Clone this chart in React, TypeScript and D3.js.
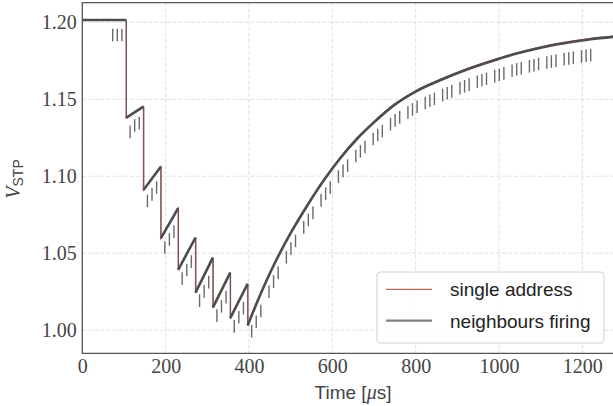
import React, { useEffect, useRef } from "react";
import * as d3 from "d3";

// spike phase: one spike every ~41.7 us
const spikeTimes = [105, 146.7, 188.3, 230, 271.7, 313.3, 355, 396.7];
const restValue = 1.2015;
const valueBeforeSpike = [1.2015, 1.1452, 1.1062, 1.0792, 1.0601, 1.0471, 1.0374, 1.0301];
const valueAfterSpike = [1.1379, 1.0911, 1.0597, 1.0392, 1.0244, 1.0147, 1.0078, 1.003];

// recovery after the last spike
const recoveryTimes = [396.7, 420, 460, 500, 540, 580, 620, 660, 700, 750, 800, 860, 920, 980, 1040, 1100, 1160, 1220, 1274];
const recoveryValues = [1.003, 1.0185, 1.0425, 1.063, 1.081, 1.0975, 1.112, 1.1245, 1.135, 1.1465, 1.155, 1.1625, 1.169, 1.1745, 1.1795, 1.1835, 1.1865, 1.189, 1.1905];

// neighbour events: groups of three ticks
const markerGroupTimes = [73, 114.7, 156.3, 198, 239.7, 281.4, 323, 364.7, 406.4, 448, 489.7, 531.4, 573, 614.7,
  656.4, 698, 739.7, 781.4, 823, 864.7, 906.4, 948, 989.7, 1031.4, 1073, 1114.7, 1156.4, 1198];
const markerOffsets = [0, 11, 22];
const markerValues = [
  [1.1917, 1.1917, 1.1917],
  [1.1288, 1.133, 1.1345],
  [1.084, 1.0882, 1.0927],
  [1.0537, 1.0589, 1.064],
  [1.0336, 1.0391, 1.0446],
  [1.0192, 1.0252, 1.0312],
  [1.0095, 1.0155, 1.0215],
  [1.0025, 1.0084, 1.0143],
  [0.9993, 1.0055, 1.0125],
  [1.025, 1.0316, 1.0373],
  [1.0474, 1.053, 1.058],
  [1.0668, 1.0717, 1.0762],
  [1.0843, 1.0887, 1.0926],
  [1.0998, 1.1035, 1.1069],
  [1.1131, 1.1161, 1.119],
  [1.1242, 1.1268, 1.1293],
  [1.1338, 1.1363, 1.1382],
  [1.1415, 1.1434, 1.1451],
  [1.1476, 1.149, 1.1503],
  [1.1527, 1.1539, 1.1551],
  [1.1572, 1.1584, 1.1595],
  [1.1613, 1.1623, 1.1633],
  [1.165, 1.1659, 1.1668],
  [1.1685, 1.1694, 1.1701],
  [1.1714, 1.1721, 1.1729],
  [1.1739, 1.1745, 1.175],
  [1.176, 1.1765, 1.177],
  [1.1778, 1.1782, 1.1787],
];

const xTicks = [0, 200, 400, 600, 800, 1000, 1200];
const yTicks = [1.0, 1.05, 1.1, 1.15, 1.2];
const seriesNames = ["single address", "neighbours firing"];

const W = 613;
const H = 406;
const serif = "'Liberation Serif', serif";
const sans = "'Liberation Sans', sans-serif";

const App = () => {
  const svgRef = useRef<SVGSVGElement>(null);

  useEffect(() => {
    const svg = d3.select(svgRef.current);
    svg.selectAll("*").remove();

    const x = d3.scaleLinear().domain([0, 1275]).range([82.3, 613.6]);
    const y = d3.scaleLinear().domain([0.985, 1.2127]).range([353.3, 2.7]);

    //grid
    const grid = svg.append("g");
    grid.selectAll(".gx").data(xTicks).join("line")
      .attr("x1", (d) => x(d)).attr("x2", (d) => x(d))
      .attr("y1", y.range()[1]).attr("y2", y.range()[0]);
    grid.selectAll(".gy").data(yTicks).join("line")
      .attr("x1", x.range()[0]).attr("x2", x.range()[1])
      .attr("y1", (d) => y(d)).attr("y2", (d) => y(d));
    grid.selectAll("line")
      .attr("stroke", "#dcdcdc").attr("stroke-width", 0.9).attr("stroke-dasharray", "4,2");

    // points of the spike phase
    const spikePts: [number, number][] = [[0, restValue]];
    spikeTimes.forEach((t, i) => {
      spikePts.push([t, valueBeforeSpike[i]]);
      spikePts.push([t, valueAfterSpike[i]]);
    });
    const recoveryPts: [number, number][] = recoveryTimes.map((t, i) => [t, recoveryValues[i]]);

    const lin = d3.line<[number, number]>().x((d) => x(d[0])).y((d) => y(d[1]));
    const smooth = d3.line<[number, number]>().x((d) => x(d[0])).y((d) => y(d[1])).curve(d3.curveMonotoneX);

    // single address (red, continuous)
    svg.append("path").attr("d", lin(spikePts)).attr("fill", "none")
      .attr("stroke", "#b9665a").attr("stroke-width", 1.3);
    svg.append("path").attr("d", smooth(recoveryPts)).attr("fill", "none")
      .attr("stroke", "#b9665a").attr("stroke-width", 1.3).attr("transform", "translate(0,-0.8)");

    // neighbours firing (grey, thin at the jumps)
    const segs: [number, number][][] = [];
    segs.push([[0, restValue], [spikeTimes[0], valueBeforeSpike[0]]]);
    for (let i = 1; i < spikeTimes.length; i++) {
      segs.push([[spikeTimes[i - 1], valueAfterSpike[i - 1]], [spikeTimes[i], valueBeforeSpike[i]]]);
    }
    svg.append("g").selectAll("line").data(spikeTimes).join("line")
      .attr("x1", (d) => x(d) + 0.4).attr("x2", (d) => x(d) + 0.4)
      .attr("y1", (d, i) => y(valueBeforeSpike[i])).attr("y2", (d, i) => y(valueAfterSpike[i]))
      .attr("stroke", "#5e504e").attr("stroke-width", 0.9);
    const grey = svg.append("g").attr("fill", "none").attr("stroke", "#4d4d4d").attr("stroke-width", 2.6);
    segs.forEach((s) => grey.append("path").attr("d", lin(s)));
    grey.append("path").attr("d", smooth(recoveryPts));

    // event ticks
    const ticks: [number, number][] = [];
    markerGroupTimes.forEach((t0, g) =>
      markerOffsets.forEach((o, j) => ticks.push([t0 + o, markerValues[g][j]]))
    );
    svg.append("g").selectAll("line").data(ticks).join("line")
      .attr("x1", (d) => x(d[0])).attr("x2", (d) => x(d[0]))
      .attr("y1", (d) => y(d[1]) - 6.3).attr("y2", (d) => y(d[1]) + 6.3)
      .attr("stroke", "#6a6a6a").attr("stroke-width", 1.4);

    // spines
    svg.append("path")
      .attr("d", `M${x.range()[1] + 1},${y.range()[1]}H${x.range()[0]}V${y.range()[0]}H${x.range()[1] + 1}`)
      .attr("fill", "none").attr("stroke", "#555").attr("stroke-width", 1.3);

    // axes
    const xAxis = svg.append("g").attr("transform", `translate(0,${y.range()[0]})`)
      .call(d3.axisBottom(x).tickValues(xTicks).tickSize(0).tickPadding(6).tickFormat(d3.format("d")));
    const yAxis = svg.append("g").attr("transform", `translate(${x.range()[0]},0)`)
      .call(d3.axisLeft(y).tickValues(yTicks).tickSize(0).tickPadding(5.5).tickFormat(d3.format(".2f")));
    [xAxis, yAxis].forEach((a) => {
      a.select(".domain").remove();
      a.selectAll("text").attr("font-family", serif).attr("font-size", 20).attr("fill", "#444");
    });

    const xl = svg.append("text").attr("x", 353).attr("y", 399).attr("text-anchor", "middle")
      .attr("font-family", sans).attr("font-size", 19).attr("fill", "#444");
    xl.append("tspan").text("Time [");
    xl.append("tspan").attr("font-family", serif).attr("font-style", "italic").attr("font-size", 20).text("μ");
    xl.append("tspan").text("s]");

    const yl = svg.append("text").attr("transform", "translate(20,179) rotate(-90)")
      .attr("text-anchor", "middle").attr("fill", "#444");
    yl.append("tspan").attr("font-family", serif).attr("font-style", "italic").attr("font-size", 20).text("V");
    yl.append("tspan").attr("font-family", sans).attr("font-size", 14).attr("dy", 3).text("STP");

    // legend
    const lg = svg.append("g");
    lg.append("rect").attr("x", 377).attr("y", 272).attr("width", 227).attr("height", 71).attr("rx", 3)
      .attr("fill", "white").attr("fill-opacity", 0.85).attr("stroke", "#d0d0d0");
    const handleColors = ["#c0675c", "#808080"];
    const handleWidths = [1.2, 2.2];
    seriesNames.forEach((name, i) => {
      const cy = 289.3 + i * 31.4;
      lg.append("line").attr("x1", 386).attr("x2", 432).attr("y1", cy).attr("y2", cy)
        .attr("stroke", handleColors[i]).attr("stroke-width", handleWidths[i]);
      lg.append("text").attr("x", 450).attr("y", cy + 7).attr("font-family", sans)
        .attr("font-size", 19).attr("fill", "#222").text(name);
    });
  }, []);

  return (
    <svg ref={svgRef} width={W} height={H} style={{ position: "absolute", left: 0, top: 0, background: "white" }}></svg>
  );
};

export default App;
